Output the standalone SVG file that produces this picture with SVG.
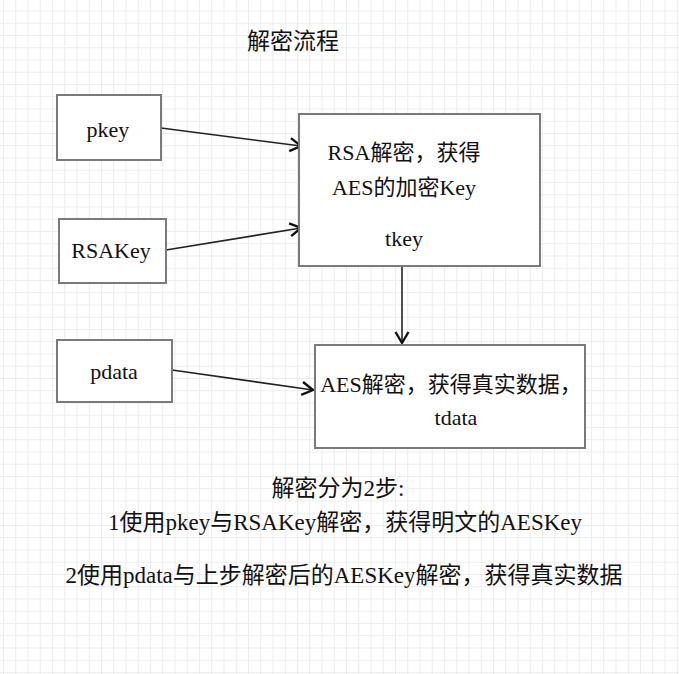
<svg xmlns="http://www.w3.org/2000/svg" width="679" height="674" viewBox="0 0 679 674">
  <defs>
    <pattern id="grid" x="3" y="10.5" width="12.25" height="12.25" patternUnits="userSpaceOnUse">
      <path d="M0,0.5 H12.25 M0.5,0 V12.25" fill="none" stroke="#ececec" stroke-width="1"/>
    </pattern>
    <marker id="arr" markerUnits="userSpaceOnUse" markerWidth="16" markerHeight="16" refX="13" refY="8" orient="auto">
      <path d="M2,1.5 L13,8 L2,14.5" fill="none" stroke="#111" stroke-width="2.4" stroke-linejoin="miter"/>
    </marker>
    <style>
      .box { fill: #ffffff; stroke: #7a7a7a; stroke-width: 2; }
      .t { font-family: "Liberation Serif", "Noto Sans CJK SC", serif; fill: #111; text-anchor: middle; }
      .n { font-size: 22px; }
      .b { font-size: 23px; }
      .edge { fill: none; stroke: #222; stroke-width: 1.6; marker-end: url(#arr); }
    </style>
  </defs>
  <rect x="0" y="0" width="679" height="674" fill="#ffffff"/>
  <rect x="0" y="0" width="679" height="674" fill="url(#grid)"/>

  <g id="title">
    <text class="t b" x="293" y="49">解密流程</text>
  </g>

  <g id="connectors">
    <line class="edge" x1="161" y1="128" x2="301" y2="146"/>
    <line class="edge" x1="166" y1="250" x2="301" y2="228"/>
    <line class="edge" x1="172" y1="370" x2="313" y2="390"/>
    <line class="edge" x1="402" y1="266" x2="402" y2="343"/>
  </g>

  <g id="pkey">
    <rect class="box" x="57" y="95" width="104" height="65"/>
    <text class="t n" x="108" y="137">pkey</text>
  </g>

  <g id="rsakey">
    <rect class="box" x="59" y="219" width="107" height="64"/>
    <text class="t n" x="111" y="258">RSAKey</text>
  </g>

  <g id="pdata">
    <rect class="box" x="57" y="340" width="115" height="62"/>
    <text class="t n" x="114" y="379">pdata</text>
  </g>

  <g id="rsa-decrypt">
    <rect class="box" x="299" y="114" width="241" height="152"/>
    <text class="t n" x="404" y="160">RSA解密，获得</text>
    <text class="t n" x="404" y="195">AES的加密Key</text>
    <text class="t n" x="404" y="246">tkey</text>
  </g>

  <g id="aes-decrypt">
    <rect class="box" x="315" y="345" width="270" height="103"/>
    <text class="t n" x="451" y="392">AES解密，获得真实数据，</text>
    <text class="t n" x="456" y="425">tdata</text>
  </g>

  <g id="notes">
    <text class="t b" x="338" y="496">解密分为2步:</text>
    <text class="t b" x="345" y="530">1使用pkey与RSAKey解密，获得明文的AESKey</text>
    <text class="t b" x="344" y="583">2使用pdata与上步解密后的AESKey解密，获得真实数据</text>
  </g>
</svg>
